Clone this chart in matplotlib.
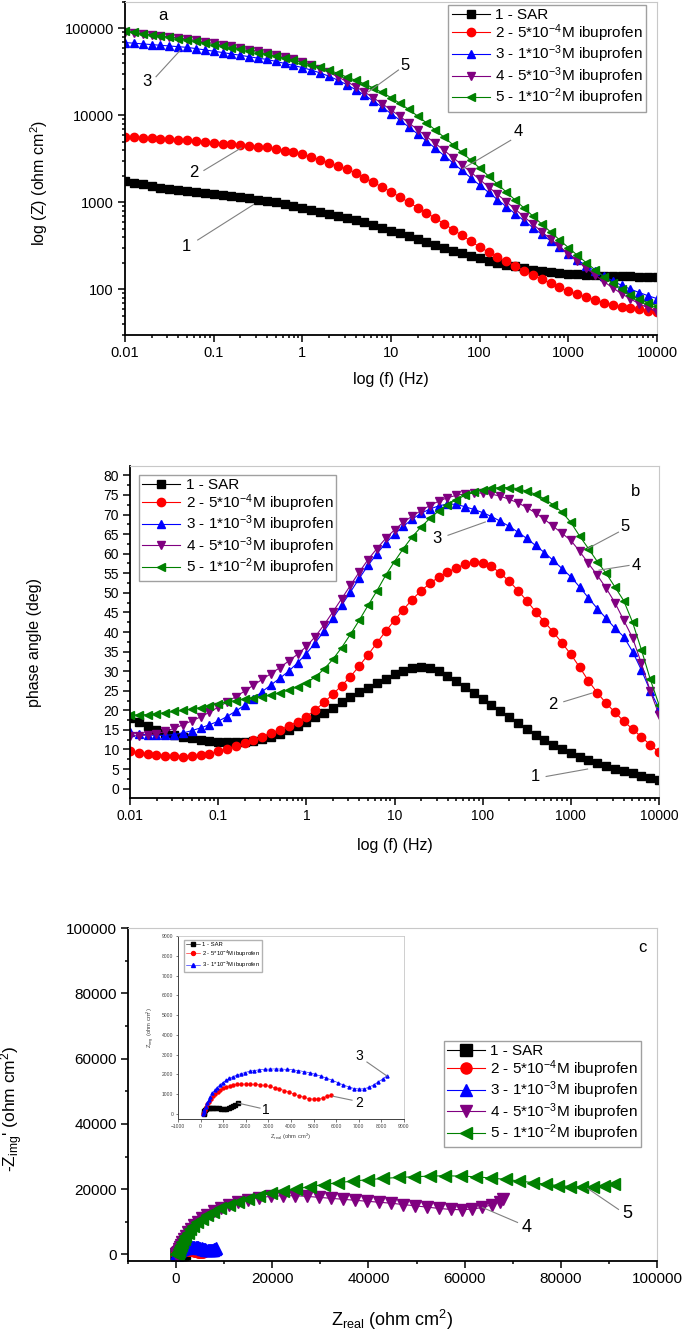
import numpy as np
import matplotlib
matplotlib.use("Agg")
import matplotlib.pyplot as plt
from matplotlib.ticker import FixedLocator, NullFormatter, LogLocator, MultipleLocator

plt.rcParams['font.family'] = ['Liberation Sans', 'DejaVu Sans']
plt.rcParams['mathtext.fontset'] = 'custom'
plt.rcParams['mathtext.rm'] = 'Liberation Sans'
plt.rcParams['mathtext.it'] = 'Liberation Sans:italic'

# frequency sweep, 10 points per decade
freq = np.logspace(-2, 4, 61)

labels = ['1 - SAR',
          '2 - 5*10$^{-4}$M ibuprofen',
          '3 - 1*10$^{-3}$M ibuprofen',
          '4 - 5*10$^{-3}$M ibuprofen',
          '5 - 1*10$^{-2}$M ibuprofen']
colors = ['#000000', '#ff0000', '#0000ff', '#800080', '#008000']
markers = ['s', 'o', '^', 'v', '<']

# log10 |Z| (ohm cm2)
logz_1 = [3.243, 3.224, 3.206, 3.188, 3.170, 3.154, 3.139, 3.126, 3.114, 3.103, 3.092,
          3.081, 3.070, 3.059, 3.047, 3.033, 3.017, 2.999, 2.978, 2.956, 2.934,
          2.912, 2.889, 2.866, 2.843, 2.820, 2.796, 2.769, 2.740, 2.709, 2.677,
          2.643, 2.609, 2.575, 2.542, 2.510, 2.478, 2.446, 2.415, 2.384, 2.356,
          2.330, 2.306, 2.284, 2.264, 2.245, 2.228, 2.213, 2.200, 2.190, 2.181,
          2.174, 2.168, 2.163, 2.158, 2.154, 2.151, 2.149, 2.148, 2.147, 2.146]
logz_2 = [3.752, 3.746, 3.740, 3.734, 3.729, 3.723, 3.717, 3.711, 3.700, 3.693, 3.684,
          3.675, 3.667, 3.658, 3.650, 3.641, 3.633, 3.613, 3.593, 3.574, 3.552,
          3.523, 3.489, 3.454, 3.419, 3.384, 3.340, 3.285, 3.230, 3.176, 3.121,
          3.062, 3.001, 2.940, 2.879, 2.818, 2.753, 2.687, 2.621, 2.554, 2.488,
          2.430, 2.376, 2.323, 2.269, 2.215, 2.166, 2.119, 2.072, 2.025, 1.977,
          1.943, 1.912, 1.881, 1.850, 1.819, 1.802, 1.787, 1.771, 1.756, 1.740]
logz_3 = [4.835, 4.828, 4.820, 4.812, 4.804, 4.796, 4.788, 4.780, 4.766, 4.751, 4.736,
          4.721, 4.705, 4.689, 4.673, 4.656, 4.642, 4.619, 4.596, 4.572, 4.548,
          4.520, 4.487, 4.449, 4.404, 4.352, 4.295, 4.232, 4.165, 4.094, 4.020,
          3.944, 3.866, 3.786, 3.704, 3.621, 3.537, 3.452, 3.367, 3.282, 3.198,
          3.115, 3.033, 2.951, 2.870, 2.790, 2.711, 2.633, 2.557, 2.483, 2.411,
          2.341, 2.275, 2.212, 2.153, 2.098, 2.048, 2.004, 1.964, 1.928, 1.895]
logz_4 = [4.958, 4.947, 4.936, 4.925, 4.913, 4.901, 4.889, 4.876, 4.860, 4.843, 4.826,
          4.809, 4.791, 4.773, 4.755, 4.737, 4.719, 4.695, 4.670, 4.643, 4.612,
          4.577, 4.537, 4.492, 4.442, 4.388, 4.330, 4.268, 4.202, 4.133, 4.062,
          3.989, 3.913, 3.836, 3.757, 3.677, 3.596, 3.514, 3.431, 3.347, 3.263,
          3.178, 3.093, 3.008, 2.922, 2.836, 2.750, 2.664, 2.579, 2.494, 2.410,
          2.327, 2.246, 2.167, 2.091, 2.019, 1.952, 1.891, 1.836, 1.787, 1.745]
logz_5 = [4.969, 4.954, 4.939, 4.924, 4.909, 4.895, 4.881, 4.866, 4.848, 4.830, 4.812,
          4.794, 4.776, 4.758, 4.740, 4.721, 4.700, 4.678, 4.655, 4.631, 4.606,
          4.579, 4.550, 4.518, 4.482, 4.440, 4.403, 4.361, 4.314, 4.262, 4.203,
          4.138, 4.067, 3.992, 3.913, 3.831, 3.747, 3.661, 3.573, 3.484, 3.394,
          3.303, 3.211, 3.119, 3.027, 2.935, 2.843, 2.751, 2.660, 2.570, 2.481,
          2.394, 2.309, 2.227, 2.148, 2.074, 2.005, 1.942, 1.885, 1.850, 1.815]

# phase angle (deg)
phase_1 = [18.0, 16.9, 15.9, 15.0, 14.3, 13.7, 13.2, 12.8, 12.4, 12.1, 11.9,
           11.8, 11.8, 11.9, 12.2, 12.7, 13.3, 14.0, 14.9, 15.9, 17.0,
           18.2, 19.4, 20.7, 22.0, 23.3, 24.6, 25.8, 27.0, 28.1, 29.2,
           30.1, 30.8, 31.1, 30.8, 30.0, 28.8, 27.4, 25.9, 24.5, 23.0,
           21.4, 19.8, 18.3, 16.7, 15.2, 13.8, 12.4, 11.1, 10.0, 9.0,
           8.1, 7.2, 6.5, 5.8, 5.1, 4.5, 3.9, 3.3, 2.7, 2.1]
phase_2 = [9.5, 9.1, 8.8, 8.6, 8.4, 8.3, 8.2, 8.3, 8.5, 8.9, 9.5,
           10.2, 10.8, 11.6, 12.4, 13.3, 14.2, 15.0, 16.0, 17.1, 18.4,
           20.1, 22.0, 24.1, 26.3, 28.6, 31.3, 34.2, 37.2, 40.2, 43.0,
           45.7, 48.3, 50.5, 52.4, 54.0, 55.3, 56.4, 57.3, 57.8, 57.7,
           56.8, 55.0, 53.0, 50.6, 48.0, 45.2, 42.6, 40.0, 37.2, 34.3,
           31.0, 27.5, 24.5, 21.8, 19.5, 17.2, 15.2, 13.2, 11.2, 9.3]
phase_3 = [14.5, 14.0, 13.7, 13.6, 13.6, 13.8, 14.2, 14.8, 15.5, 16.3, 17.2,
           18.4, 19.8, 21.3, 23.0, 24.8, 26.5, 28.2, 30.0, 32.1, 34.5,
           37.2, 40.2, 43.5, 46.8, 50.2, 53.7, 57.0, 60.0, 62.7, 65.0,
           67.0, 68.8, 70.3, 71.4, 72.2, 72.7, 72.6, 72.0, 71.3, 70.5,
           69.5, 68.3, 67.0, 65.5, 63.9, 62.1, 60.3, 58.3, 56.2, 54.1,
           51.5, 48.7, 46.0, 43.5, 41.0, 38.8, 35.0, 30.3, 25.0, 20.5]
phase_4 = [13.5, 13.5, 13.7, 14.0, 14.6, 15.4, 16.3, 17.3, 18.3, 19.5, 20.8,
           22.1, 23.5, 24.9, 26.4, 27.9, 29.4, 30.9, 32.6, 34.3, 36.3,
           38.8, 41.8, 45.1, 48.5, 51.9, 55.3, 58.5, 61.3, 63.9, 66.1,
           68.0, 69.6, 71.0, 72.3, 73.4, 74.3, 74.9, 75.3, 75.5, 75.5,
           75.2, 74.7, 73.9, 73.0, 71.8, 70.4, 68.8, 67.0, 65.2, 63.4,
           60.6, 57.5, 54.5, 51.2, 47.5, 43.0, 38.5, 32.0, 25.0, 18.8]
phase_5 = [18.8, 18.8, 18.9, 19.1, 19.4, 19.7, 20.0, 20.3, 20.7, 21.2, 21.7,
           22.1, 22.5, 22.9, 23.2, 23.5, 23.9, 24.5, 25.2, 26.0, 27.0,
           28.5, 30.5, 33.0, 36.0, 39.4, 43.0, 46.8, 50.5, 54.5, 58.0,
           61.3, 64.3, 66.8, 69.0, 70.9, 72.5, 73.8, 74.9, 75.7, 76.3,
           76.7, 76.9, 76.9, 76.6, 76.0, 75.2, 74.0, 72.5, 70.6, 68.0,
           64.5, 61.3, 58.0, 55.0, 51.5, 48.0, 42.5, 35.5, 28.0, 21.4]

zre_1 = [140, 150, 170, 200, 240, 290, 350, 420, 500, 590, 690, 800, 910, 1020,
         1130, 1240, 1340, 1440, 1540, 1640]
zim_1 = [0, 60, 130, 200, 260, 300, 320, 330, 330, 320, 305, 290, 280, 275,
         280, 300, 340, 400, 480, 570]
zre_2 = [120, 150, 190, 240, 300, 370, 450, 540, 640, 750, 870, 1000, 1140, 1290,
         1450, 1620, 1800, 1990, 2190, 2400, 2610, 2830, 3050, 3270, 3490, 3710,
         3930, 4150, 4370, 4590, 4800, 5000, 5200, 5400, 5600, 5750]
zim_2 = [0, 100, 220, 350, 490, 630, 770, 900, 1020, 1130, 1230, 1310, 1380, 1430,
         1470, 1500, 1510, 1515, 1510, 1500, 1480, 1450, 1400, 1340, 1270, 1190,
         1100, 1010, 920, 840, 780, 750, 760, 820, 900, 960]
zre_3 = [100, 130, 170, 220, 280, 350, 430, 520, 620, 730, 850, 980, 1120, 1270,
         1430, 1600, 1780, 1970, 2170, 2380, 2600, 2830, 3070, 3320, 3570, 3820,
         4070, 4320, 4570, 4820, 5070, 5320, 5570, 5820, 6070, 6320, 6560, 6800,
         7030, 7250, 7460, 7660, 7850, 8050, 8230]
zim_3 = [0, 100, 230, 380, 540, 710, 880, 1040, 1200, 1340, 1470, 1590, 1700, 1800,
         1890, 1970, 2040, 2100, 2160, 2200, 2240, 2260, 2275, 2280, 2275, 2260,
         2235, 2200, 2150, 2090, 2010, 1920, 1820, 1710, 1590, 1470, 1370, 1290,
         1260, 1280, 1360, 1480, 1620, 1770, 1920]
zre_4 = [70, 90, 120, 160, 220, 300, 400, 520, 670, 850, 1060, 1320, 1630, 2010,
         2470, 3020, 3680, 4480, 5400, 6500, 7800, 9300, 11000, 12900, 15000, 17300,
         19700, 22200, 24700, 27200, 29700, 32200, 34700, 37200, 39700, 42200, 44700,
         47200, 49700, 52200, 54700, 57100, 59400, 61600, 63700, 65600, 67300, 68000]
zim_4 = [10, 30, 80, 170, 300, 500, 790, 1190, 1700, 2330, 3050, 3880, 4800, 5780,
         6810, 7880, 8960, 10050, 11130, 12200, 13250, 14250, 15200, 16050, 16800,
         17400, 17800, 18000, 18000, 17800, 17500, 17200, 16900, 16600, 16300, 16000,
         15700, 15300, 14900, 14500, 14100, 13800, 13700, 13900, 14400, 15200, 16200,
         16900]
zre_5 = [70, 90, 120, 160, 220, 300, 400, 520, 660, 830, 1030, 1280, 1580, 1950,
         2400, 2950, 3600, 4400, 5300, 6400, 7700, 9200, 10900, 12800, 14900, 17200,
         19700, 22300, 25000, 27800, 30700, 33700, 36800, 39900, 43100, 46300, 49500,
         52700, 56000, 59200, 62400, 65500, 68500, 71400, 74200, 76900, 79500, 82000,
         84400, 86700, 88900, 91000]
zim_5 = [10, 30, 80, 160, 290, 480, 760, 1150, 1650, 2250, 2950, 3750, 4650, 5600,
         6600, 7650, 8700, 9800, 10900, 12000, 13100, 14200, 15200, 16200, 17100,
         17900, 18700, 19400, 20100, 20800, 21400, 22000, 22500, 22900, 23300, 23600,
         23800, 24000, 24100, 24000, 23800, 23400, 23000, 22500, 22000, 21500, 21100,
         20800, 20600, 20700, 21100, 21700]

logz = [logz_1, logz_2, logz_3, logz_4, logz_5]
phase = [phase_1, phase_2, phase_3, phase_4, phase_5]
zre = [zre_1, zre_2, zre_3, zre_4, zre_5]
zim = [zim_1, zim_2, zim_3, zim_4, zim_5]

W, H = 685, 1339
fig = plt.figure(figsize=(W / 100, H / 100), dpi=100)


def box(l, t, r, b):
    return [l / W, 1 - b / H, (r - l) / W, (b - t) / H]


def style(ax, fs):
    for s in ['top', 'right']:
        ax.spines[s].set_color('#c8c8c8')
        ax.spines[s].set_linewidth(0.8)
    for s in ['left', 'bottom']:
        ax.spines[s].set_linewidth(1.3)
    ax.tick_params(which='both', direction='out', top=False, right=False,
                   labelsize=fs, width=1.1, pad=3)
    ax.tick_params(which='major', length=5)
    ax.tick_params(which='minor', length=2.5)


def leader(ax, txt, txy, p0, p1, fs=12):
    ax.plot([p0[0], p1[0]], [p0[1], p1[1]], color='#808080', lw=0.8, zorder=6)
    ax.text(txy[0], txy[1], txt, fontsize=fs, ha='center', va='center', zorder=6)


leg_kw = dict(frameon=True, fancybox=False, edgecolor='#888888', borderaxespad=0,
              handlelength=2.5, handletextpad=0.35, borderpad=0.2, labelspacing=0.0)

# ---------- panel a ----------
ax1 = fig.add_axes(box(125, 2, 657, 335))
for i in range(5):
    ax1.plot(freq, 10 ** np.array(logz[i]), marker=markers[i], color=colors[i],
             ms=6, lw=0.8, label=labels[i])
ax1.set_xscale('log')
ax1.set_yscale('log')
ax1.set_xlim(0.01, 10000)
ax1.set_ylim(30, 2e5)
style(ax1, 10.5)
ax1.xaxis.set_major_locator(FixedLocator([0.01, 0.1, 1, 10, 100, 1000, 10000]))
ax1.set_xticklabels(['0.01', '0.1', '1', '10', '100', '1000', '10000'])
ax1.yaxis.set_major_locator(FixedLocator([100, 1000, 10000, 100000]))
ax1.set_yticklabels(['100', '1000', '10000', '100000'])
ax1.xaxis.set_minor_locator(LogLocator(subs=np.arange(2, 10), numticks=20))
ax1.yaxis.set_minor_locator(LogLocator(subs=np.arange(2, 10), numticks=20))
ax1.xaxis.set_minor_formatter(NullFormatter())
ax1.yaxis.set_minor_formatter(NullFormatter())
ax1.set_xlabel('log (f) (Hz)', fontsize=11.5)
ax1.set_ylabel('log (Z) (ohm cm$^2$)', fontsize=11.5)
ax1.xaxis.set_label_coords(0.5, -0.11)
ax1.yaxis.set_label_coords(-0.141, 0.456)
ax1.legend(loc='upper right', bbox_to_anchor=(0.979, 0.991), fontsize=11, **leg_kw)
ax1.text(10 ** -1.57, 10 ** 5.146, 'a', fontsize=12, ha='center', va='center')
leader(ax1, '3', (10 ** -1.75, 10 ** 4.385), (10 ** -1.65, 10 ** 4.443), (10 ** -1.38, 10 ** 4.743))
leader(ax1, '2', (10 ** -1.22, 10 ** 3.348), (10 ** -1.11, 10 ** 3.367), (10 ** -0.69, 10 ** 3.625))
leader(ax1, '1', (10 ** -1.31, 10 ** 2.491), (10 ** -1.18, 10 ** 2.568), (10 ** -0.55, 10 ** 2.975))
leader(ax1, '5', (10 ** 1.153, 10 ** 4.577), (10 ** 1.084, 10 ** 4.52), (10 ** 0.747, 10 ** 4.27))
leader(ax1, '4', (10 ** 2.43, 10 ** 3.81), (10 ** 2.35, 10 ** 3.713), (10 ** 1.81, 10 ** 3.387))

# ---------- panel b ----------
ax2 = fig.add_axes(box(130, 466, 659, 798))
for i in range(5):
    ax2.plot(freq, phase[i], marker=markers[i], color=colors[i],
             ms=6, lw=0.8, label=labels[i])
ax2.set_xscale('log')
ax2.set_xlim(0.01, 10000)
ax2.set_ylim(-2.4, 82.4)
style(ax2, 10)
ax2.xaxis.set_major_locator(FixedLocator([0.01, 0.1, 1, 10, 100, 1000, 10000]))
ax2.set_xticklabels(['0.01', '0.1', '1', '10', '100', '1000', '10000'])
ax2.xaxis.set_minor_locator(LogLocator(subs=np.arange(2, 10), numticks=20))
ax2.xaxis.set_minor_formatter(NullFormatter())
ax2.yaxis.set_major_locator(MultipleLocator(5))
ax2.yaxis.set_minor_locator(MultipleLocator(2.5))
ax2.set_xlabel('log (f) (Hz)', fontsize=11.5)
ax2.set_ylabel('phase angle (deg)', fontsize=11.5)
ax2.xaxis.set_label_coords(0.5, -0.12)
ax2.yaxis.set_label_coords(-0.166, 0.467)
ax2.legend(loc='upper left', bbox_to_anchor=(0.017, 0.973), fontsize=11, **leg_kw)
ax2.text(10 ** 3.73, 76.0, 'b', fontsize=12, ha='center', va='center')
leader(ax2, '3', (10 ** 1.484, 63.8), (10 ** 1.607, 64.7), (10 ** 2.03, 68.1))
leader(ax2, '5', (10 ** 3.62, 67.0), (10 ** 3.54, 65.5), (10 ** 3.19, 61.3))
leader(ax2, '4', (10 ** 3.74, 56.9), (10 ** 3.66, 57.0), (10 ** 3.32, 55.8))
leader(ax2, '2', (10 ** 2.80, 21.4), (10 ** 2.92, 22.2), (10 ** 3.24, 24.4))
leader(ax2, '1', (10 ** 2.60, 3.0), (10 ** 2.72, 3.1), (10 ** 3.19, 5.0))

# ---------- panel c ----------
ax3 = fig.add_axes(box(128, 928, 657, 1261))
for i in range(5):
    ax3.plot(zre[i], zim[i], marker=markers[i], color=colors[i],
             ms=8, lw=0.8, label=labels[i])
ax3.set_xlim(-10000, 100000)
ax3.set_ylim(-2000, 100000)
style(ax3, 11)
ax3.xaxis.set_major_locator(FixedLocator([0, 20000, 40000, 60000, 80000, 100000]))
ax3.xaxis.set_minor_locator(MultipleLocator(10000))
ax3.yaxis.set_major_locator(MultipleLocator(20000))
ax3.yaxis.set_minor_locator(MultipleLocator(10000))
ax3.set_xlabel('Z$_{\\mathregular{real}}$ (ohm cm$^2$)', fontsize=13)
ax3.set_ylabel("-Z$_{\\mathregular{img}}$' (ohm cm$^2$)", fontsize=12.5)
ax3.xaxis.set_label_coords(0.5, -0.14)
ax3.yaxis.set_label_coords(-0.195, 0.456)
ax3.legend(loc='upper right', bbox_to_anchor=(0.970, 0.661), fontsize=11, **leg_kw)
ax3.text(96900, 94000, 'c', fontsize=12, ha='center', va='center')
leader(ax3, '5', (93800, 12550), (92000, 13800), (85600, 20200), fs=13)
leader(ax3, '4', (72800, 8300), (71000, 9800), (63700, 14400), fs=13)

# ---------- inset ----------
ax4 = fig.add_axes(box(178, 936, 404, 1119))
for i in range(3):
    ax4.plot(zre[i], zim[i], marker=markers[i], color=colors[i],
             ms=2.2, lw=0.4, label=labels[i])
ax4.set_xlim(-1000, 9000)
ax4.set_ylim(-250, 9000)
for s in ['top', 'right']:
    ax4.spines[s].set_color('#c8c8c8')
    ax4.spines[s].set_linewidth(0.6)
for s in ['left', 'bottom']:
    ax4.spines[s].set_color('#404040')
    ax4.spines[s].set_linewidth(0.7)
ax4.tick_params(which='both', direction='out', top=False, right=False,
                labelsize=3.6, width=0.5, length=1.8, pad=1.5, colors='#404040')
ax4.xaxis.set_major_locator(MultipleLocator(1000))
ax4.yaxis.set_major_locator(MultipleLocator(1000))
ax4.set_xlabel('Z$_{\\mathregular{real}}$ (ohm cm$^2$)', fontsize=4.2, labelpad=2, color='#404040')
ax4.set_ylabel('Z$_{\\mathregular{img}}$ (ohm cm$^2$)', fontsize=4.2, labelpad=4, color='#404040')
ax4.legend(loc='upper left', bbox_to_anchor=(0.027, 0.978), fontsize=4.2,
           frameon=True, fancybox=False, edgecolor='#a0a0a0', borderaxespad=0,
           handlelength=2.4, handletextpad=0.4, borderpad=0.3, labelspacing=0.25,
           markerscale=1.3)
leader(ax4, '1', (2894, 200), (2628, 300), (1655, 555), fs=10)
leader(ax4, '2', (7010, 555), (6700, 700), (5860, 900), fs=10)
leader(ax4, '3', (7010, 2930), (7360, 2630), (8250, 1920), fs=10)

fig.savefig('out.png', dpi=100)
